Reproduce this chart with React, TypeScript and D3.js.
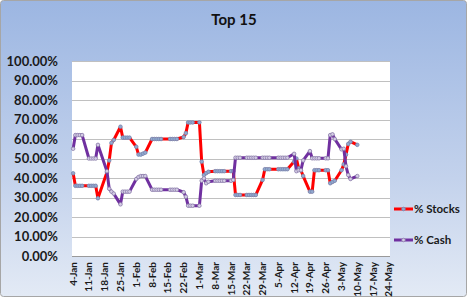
import React from 'react';
import * as d3 from 'd3';

const dates = [
  "2010-01-04","2010-01-05","2010-01-06","2010-01-07","2010-01-08",
  "2010-01-11","2010-01-12","2010-01-13","2010-01-14","2010-01-15",
  "2010-01-19","2010-01-20","2010-01-21","2010-01-22",
  "2010-01-25","2010-01-26","2010-01-27","2010-01-28","2010-01-29",
  "2010-02-01","2010-02-02","2010-02-03","2010-02-04","2010-02-05",
  "2010-02-08","2010-02-09","2010-02-10","2010-02-11","2010-02-12",
  "2010-02-16","2010-02-17","2010-02-18","2010-02-19",
  "2010-02-22","2010-02-23","2010-02-24","2010-02-25","2010-02-26",
  "2010-03-01","2010-03-02","2010-03-03","2010-03-04","2010-03-05",
  "2010-03-08","2010-03-09","2010-03-10","2010-03-11","2010-03-12",
  "2010-03-15","2010-03-16","2010-03-17","2010-03-18","2010-03-19",
  "2010-03-22","2010-03-23","2010-03-24","2010-03-25","2010-03-26",
  "2010-03-29","2010-03-30","2010-03-31","2010-04-01",
  "2010-04-05","2010-04-06","2010-04-07","2010-04-08","2010-04-09",
  "2010-04-12","2010-04-13","2010-04-14","2010-04-15","2010-04-16",
  "2010-04-19","2010-04-20","2010-04-21","2010-04-22","2010-04-23",
  "2010-04-26","2010-04-27","2010-04-28","2010-04-29","2010-04-30",
  "2010-05-03","2010-05-04","2010-05-05","2010-05-06","2010-05-07",
  "2010-05-10"
];

const stocks = [
  42.4, 36, 36, 36, 36,
  36, 36, 36, 36, 29.6,
  43, 49, 58, 59.5,
  66.3, 60.7, 60.7, 60.7, 60.7,
  56, 52, 52, 52.5, 53,
  60, 60, 60, 60, 60,
  60, 60, 60, 60,
  61, 63, 68.5, 68.5, 68.5,
  68.5, 48.4, 41.5, 42.5, 43.2,
  43.5, 43.5, 43.5, 43.5, 43.5,
  43.5, 43.5, 31.3, 31.3, 31.3,
  31.3, 31.3, 31.3, 31.3, 31.3,
  39, 44.5, 44.5, 44.5,
  44.5, 44.5, 44.5, 44.5, 44.5,
  48.4, 50, 45, 44, 41,
  33, 33, 44, 44, 44,
  44, 44, 37.3, 38, 38.6,
  44, 47, 52, 57.5, 58.6,
  57
];

const cash = [
  55, 62, 62, 62, 62,
  50, 50, 50, 50, 57,
  43.5, 34.5, 33, 32,
  26.5, 33, 33, 33, 33,
  39.5, 40.5, 41, 41, 41,
  34, 34, 34, 34, 34,
  34, 34, 34, 34,
  32.7, 30.4, 25.8, 25.8, 25.8,
  25.8, 38.6, 39.8, 37.3, 38.1,
  38.6, 38.6, 38.6, 38.6, 38.6,
  38.6, 39, 50.4, 50.4, 50.4,
  50.4, 50.4, 50.4, 50.4, 50.4,
  50.4, 50.4, 50.4, 50.4,
  50.4, 50.4, 50.4, 50.4, 50.4,
  52.4, 43.5, 44, 44, 49,
  53.8, 50.1, 50.1, 50.1, 50.1,
  50.1, 50.1, 62, 62.4, 60,
  54.7, 55, 46, 41.5, 39.5,
  41
];

const yTicks = [0, 10, 20, 30, 40, 50, 60, 70, 80, 90, 100];

const xTickDates = [
  "2010-01-04","2010-01-11","2010-01-18","2010-01-25","2010-02-01","2010-02-08",
  "2010-02-15","2010-02-22","2010-03-01","2010-03-08","2010-03-15","2010-03-22",
  "2010-03-29","2010-04-05","2010-04-12","2010-04-19","2010-04-26","2010-05-03",
  "2010-05-10","2010-05-17","2010-05-24"
];

const seriesNames = ["% Stocks", "% Cash"];
const title = "Top 15";

const W = 468, H = 300;
const plot = { left: 72, right: 390, top: 61, bottom: 256 };
const FONT = "Lato, 'Open Sans', 'DejaVu Sans', sans-serif";

export default function App() {
  const parse = d3.timeParse("%Y-%m-%d");
  const xs = dates.map(d => parse(d) as Date);
  const x = d3.scaleTime()
    .domain([new Date(2010, 0, 3, 12), new Date(2010, 4, 24, 12)])
    .range([plot.left, plot.right]);
  const y = d3.scaleLinear().domain([0, 100]).range([plot.bottom, plot.top]);
  const fmtX = d3.timeFormat("%-d-%b");
  const fmtY = (v: number) => d3.format(".2f")(v) + "%";

  const line = d3.line<[Date, number]>().x(d => x(d[0])).y(d => y(d[1]));
  const sData: [Date, number][] = xs.map((d, i) => [d, stocks[i]]);
  const cData: [Date, number][] = xs.map((d, i) => [d, cash[i]]);

  const series = [
    { name: seriesNames[0], data: sData, color: "#FF0000", mFill: "#93A9CF", mStroke: "#7589B3" },
    { name: seriesNames[1], data: cData, color: "#7030A0", mFill: "#D5CCE6", mStroke: "#8C80AA" },
  ];

  return (
    <svg width={W} height={H} style={{ position: "absolute", left: 0, top: 0 }} fontFamily={FONT}>
      <defs>
        <linearGradient id="bg" x1="0" y1="0" x2="0" y2="1">
          <stop offset="0" stopColor="#9CB6E2" />
          <stop offset="0.6" stopColor="#C3D2EC" />
          <stop offset="1" stopColor="#E3EAF5" />
        </linearGradient>
      </defs>
      <rect x={0.5} y={0.5} width={466} height={296} rx={3} fill="url(#bg)" stroke="#A6A6A6" />
      <text x={234} y={25} textAnchor="middle" fontSize={15} fontWeight="bold" fill="#111">{title}</text>

      <rect x={plot.left} y={plot.top} width={plot.right - plot.left} height={plot.bottom - plot.top} fill="#FFFFFF" />
      {yTicks.map(t => (
        <g key={t}>
          <line x1={plot.left} x2={plot.right} y1={Math.round(y(t)) + 0.5} y2={Math.round(y(t)) + 0.5}
            stroke={t === 0 ? "#9A9A9A" : "#C0C0C0"} strokeWidth={1} />
          <text x={58} y={y(t)} dy="0.35em" textAnchor="end" fontSize={13} fontWeight="bold" fill="#1A1A1A">{fmtY(t)}</text>
        </g>
      ))}
      {xTickDates.map(d => {
        const dt = parse(d) as Date;
        return (
          <text key={d} transform={`translate(${x(dt)},${plot.bottom + 6}) rotate(-90)`} dy="0.35em"
            textAnchor="end" fontSize={10} fontWeight="bold" fill="#1A1A1A">{fmtX(dt)}</text>
        );
      })}

      {series.map(s => (
        <g key={s.name}>
          <path d={line(s.data) || ""} fill="none" stroke={s.color} strokeWidth={3} strokeLinejoin="round" />
          {s.data.map((d, i) => (
            <circle key={i} cx={x(d[0])} cy={y(d[1])} r={1.8} fill={s.mFill} stroke={s.mStroke} strokeWidth={0.8} />
          ))}
        </g>
      ))}

      {series.map((s, i) => {
        const ly = 209 + i * 31;
        return (
          <g key={s.name}>
            <line x1={394} x2={413} y1={ly} y2={ly} stroke={s.color} strokeWidth={3} />
            <circle cx={403.5} cy={ly} r={1.8} fill={s.mFill} stroke={s.mStroke} strokeWidth={0.8} />
            <text x={414} y={ly} dy="0.35em" fontSize={11.5} fontWeight="bold" fill="#1A1A1A">{s.name}</text>
          </g>
        );
      })}
    </svg>
  );
}
